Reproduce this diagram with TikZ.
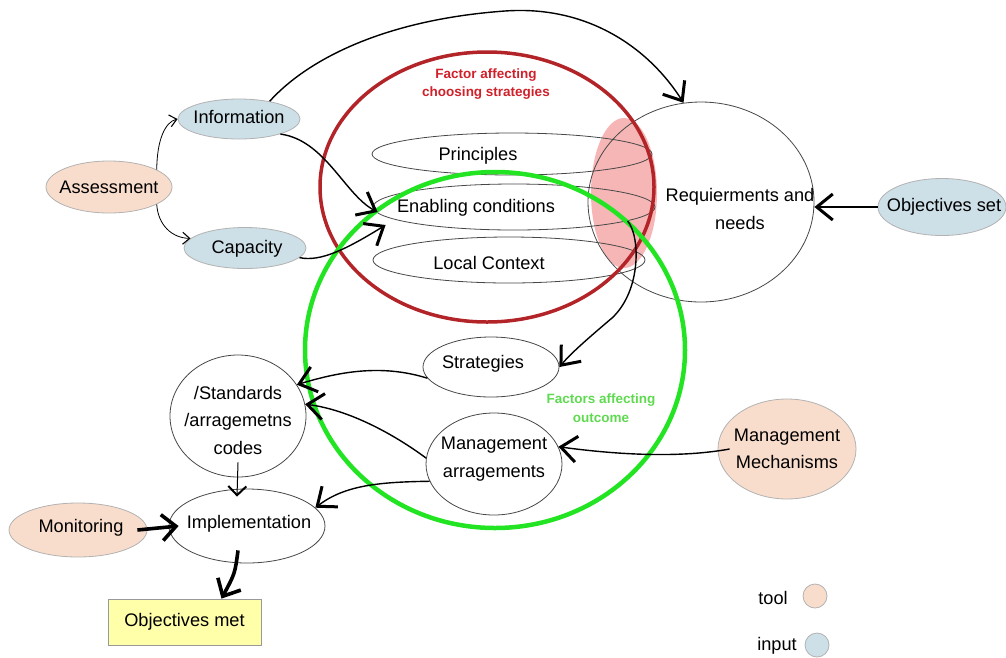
\documentclass[tikz,border=0pt]{standalone}
\usepackage{fontspec}
\setmainfont{Liberation Sans}
\usetikzlibrary{arrows.meta,shapes.geometric}
\definecolor{peach}{RGB}{249,221,204}
\definecolor{lblue}{RGB}{205,223,231}
\definecolor{lyellow}{RGB}{255,255,170}
\definecolor{dred}{RGB}{178,36,40}
\definecolor{rtext}{RGB}{208,32,42}
\definecolor{bgreen}{RGB}{35,228,35}
\definecolor{gtext}{RGB}{95,218,80}
\definecolor{pinkfill}{RGB}{246,182,182}
\begin{document}
\begin{tikzpicture}[x=1pt,y=-1pt,
  every node/.style={font=\fontsize{18.2}{27.5}\selectfont, inner sep=0pt, align=center},
  oval/.style={ellipse, draw=black!72, line width=0.8pt},
  toolnode/.style={ellipse, draw=black!30, line width=0.8pt, fill=peach},
  inputnode/.style={ellipse, draw=black!30, line width=0.8pt, fill=lblue},
  lab/.style={font=\fontsize{13.5}{18.5}\selectfont\bfseries},
  link/.style={line width=1.4pt, -{Straight Barb[length=16pt,width=26pt,line width=3pt]}},
  thinlink/.style={line width=0.8pt, -{Straight Barb[length=7pt,width=12pt,line width=1.1pt]}},
  heavylink/.style={line width=3.6pt, -{Straight Barb[length=14pt,width=26pt,line width=3.6pt]}},
]
\useasboundingbox (0,0) rectangle (1006,657);

% pink overlap shading
\fill[pinkfill] (624,193) ellipse [x radius=33pt, y radius=75pt];

% white ellipses
\node[oval, minimum width=280pt, minimum height=42pt, label={[xshift=-34pt,yshift=-2pt]center:Principles}] (princ) at (512,154) {};
\node[oval, minimum width=282pt, minimum height=46pt, label={[xshift=-38pt,yshift=-1pt]center:Enabling conditions}] (enab) at (514,207) {};
\node[oval, minimum width=272pt, minimum height=46pt, label={[xshift=-20pt,yshift=-3pt]center:Local Context}] (local) at (509,260) {};
\node[oval, minimum width=226pt, minimum height=200pt, label={[xshift=39pt,yshift=-7pt]center:Requierments and\\needs}] (req) at (701,202) {};
\node[oval, minimum width=136pt, minimum height=60pt, label={[xshift=-8pt,yshift=3pt]center:Strategies}] (strat) at (491,367) {};
\node[oval, minimum width=136pt, minimum height=102pt, label={[yshift=5pt]center:Management\\arragements}] (marr) at (494,464) {};
\node[oval, minimum width=136pt, minimum height=122pt, label={[yshift=-4pt]center:/Standards\\/arragemetns\\codes}] (stand) at (238,416) {};
\node[oval, minimum width=156pt, minimum height=74pt, label={[xshift=2pt,yshift=2pt]center:Implementation}] (impl) at (247,526) {};

% coloured nodes
\node[toolnode, minimum width=126pt, minimum height=52pt, label={center:Assessment}] (assess) at (109,187) {};
\node[inputnode, minimum width=122pt, minimum height=40pt, label={[yshift=2pt]center:Information}] (info) at (239,119) {};
\node[inputnode, minimum width=122pt, minimum height=41pt, label={[xshift=2pt,yshift=-1pt]center:Capacity}] (cap) at (245,248) {};
\node[inputnode, minimum width=128pt, minimum height=57pt, label={[xshift=2pt]center:Objectives set}] (objs) at (942,207) {};
\node[toolnode, minimum width=138pt, minimum height=54pt, label={[xshift=3pt,yshift=2pt]center:Monitoring}] (mon) at (78,530) {};
\node[toolnode, minimum width=138pt, minimum height=100pt, label={center:Management\\Mechanisms}] (mm) at (787,449) {};
\node[draw=black!40, line width=0.8pt, fill=lyellow, minimum width=153pt, minimum height=46pt] (om) at (184.5,622) {Objectives met};

% big circles
\node[ellipse, draw=dred, line width=3.5pt, minimum width=334pt, minimum height=270pt] (redc) at (487,187) {};
\node[ellipse, draw=bgreen, line width=4.5pt, minimum width=380pt, minimum height=356pt] (greenc) at (495,350) {};
\node[lab, text=rtext] (redlab) at (486,84) {Factor affecting\\choosing strategies};
\node[lab, text=gtext] (greenlab) at (601,408) {Factors affecting\\outcome};

% connectors
\draw[thinlink] (assess.20) .. controls (157,140) and (165,122) .. (info.west);
\draw[thinlink] (assess.-20) .. controls (158,225) and (172,238) .. (cap.170);
\draw[link] (info.30) .. controls (305,62) and (380,20) .. (505,11)
            .. controls (590,5) and (650,50) .. (req.100);
\draw[link] (info.-20) .. controls (325,140) and (345,195) .. ([xshift=5pt,yshift=-5pt]enab.west);
\draw[link] (cap.-10) .. controls (320,262) and (345,250) .. ([xshift=13pt,yshift=-18pt]enab.west);
\draw[link] (enab.-7) .. controls (640,235) and (642,290) .. (612,318)
            .. controls (592,335) and (572,352) .. (strat.east);
\draw[link] (objs.west) -- (objs.west -| req.east);
\draw[link] (strat.190) .. controls (385,365) and (345,370) .. (stand.28);
\draw[link] (marr.175) .. controls (395,435) and (350,410) .. (stand.10);
\draw[link] (marr.195) .. controls (380,482) and (345,485) .. (impl.15);
\draw[link] ([xshift=12pt]mm.west) .. controls (680,458) and (620,455) .. (marr.15);
\draw[line width=1pt, -{Straight Barb[length=9pt,width=18pt,line width=2pt]}] ([yshift=15pt]stand.south) -- ([xshift=-10pt,yshift=-8pt]impl.north);
\draw[heavylink] ([xshift=-10pt]mon.east) -- ([xshift=10pt]impl.west);
\draw[heavylink] ([xshift=-9pt,yshift=13pt]impl.south) .. controls ([xshift=-12pt,yshift=-10pt]impl.south) .. ([xshift=37pt]om.north);

% legend
\node (tooltxt) at (773,598) {tool};
\node[circle, draw=black!30, line width=0.8pt, fill=peach, minimum size=24pt] (toolkey) at (815,596) {};
\node (inputtxt) at (777,646) {input};
\node[circle, draw=black!30, line width=0.8pt, fill=lblue, minimum size=24pt] (inputkey) at (817,645) {};
\end{tikzpicture}
\end{document}
